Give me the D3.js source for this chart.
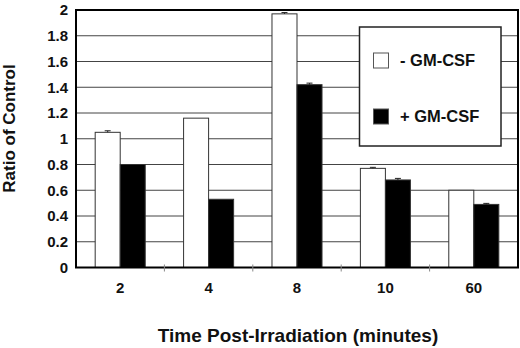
<!DOCTYPE html>
<html>
<head>
<meta charset="utf-8">
<script src="https://cdn.jsdelivr.net/npm/d3@7"></script>
<style>
  body { margin: 0; background: #fff; }
  svg { display: block; font-family: "Liberation Sans", Arial, sans-serif; font-weight: bold; }
</style>
</head>
<body>
<div id="chart"></div>
<script>
// chart data
const categories = ['2', '4', '8', '10', '60'];
const minusValues = [1.05, 1.16, 1.97, 0.77, 0.60];
const plusValues = [0.80, 0.53, 1.42, 0.68, 0.49];
const minusErr = [0.012, 0, 0.01, 0.008, 0];
const plusErr = [0, 0, 0.012, 0.012, 0.008];
const yTicks = [0, 0.2, 0.4, 0.6, 0.8, 1, 1.2, 1.4, 1.6, 1.8, 2];
const seriesNames = ['- GM-CSF', '+ GM-CSF'];
const seriesFill = ['#fff', '#000'];

const W = 520, H = 348;
const margin = { top: 10, right: 2, bottom: 80.5, left: 76 };
const width = W - margin.left - margin.right;
const height = H - margin.top - margin.bottom;

const svg = d3.select('#chart').append('svg')
    .attr('width', W).attr('height', H);

const chart = svg.append('g')
    .attr('transform', `translate(${margin.left},${margin.top})`);

const x = d3.scaleBand()
    .domain(categories)
    .range([0, width])
    .paddingInner(0.434)
    .paddingOuter(0.217);

const xSub = d3.scaleBand()
    .domain([0, 1])
    .range([0, x.bandwidth()]);

const y = d3.scaleLinear().domain([0, 2]).range([height, 0]);

// gridlines
chart.append('g')
    .selectAll('line')
    .data(yTicks.slice(1, -1))
    .join('line')
    .attr('x1', 0).attr('x2', width)
    .attr('y1', d => y(d)).attr('y2', d => y(d))
    .attr('stroke', '#444')
    .attr('stroke-width', 1);

// bars
const rows = categories.map((c, i) => ({
    cat: c,
    vals: [
        { s: 0, v: minusValues[i], e: minusErr[i] },
        { s: 1, v: plusValues[i], e: plusErr[i] }
    ]
}));

const groups = chart.selectAll('.grp')
    .data(rows)
    .join('g')
    .attr('class', 'grp')
    .attr('transform', d => `translate(${x(d.cat)},0)`);

groups.selectAll('rect')
    .data(d => d.vals)
    .join('rect')
    .attr('x', d => xSub(d.s))
    .attr('y', d => y(d.v))
    .attr('width', xSub.bandwidth())
    .attr('height', d => height - y(d.v))
    .attr('fill', d => seriesFill[d.s])
    .attr('stroke', '#333')
    .attr('stroke-width', 1);

// error bars
const errs = groups.selectAll('.err')
    .data(d => d.vals.filter(v => v.e > 0))
    .join('g')
    .attr('class', 'err')
    .attr('stroke', '#222')
    .attr('stroke-width', 1);

errs.append('line')
    .attr('x1', d => xSub(d.s) + xSub.bandwidth() / 2)
    .attr('x2', d => xSub(d.s) + xSub.bandwidth() / 2)
    .attr('y1', d => y(d.v))
    .attr('y2', d => y(d.v + d.e));

errs.append('line')
    .attr('x1', d => xSub(d.s) + xSub.bandwidth() / 2 - 3)
    .attr('x2', d => xSub(d.s) + xSub.bandwidth() / 2 + 3)
    .attr('y1', d => y(d.v + d.e))
    .attr('y2', d => y(d.v + d.e));

// frame
chart.append('rect')
    .attr('x', 0).attr('y', 0)
    .attr('width', width).attr('height', height)
    .attr('fill', 'none')
    .attr('stroke', '#000')
    .attr('stroke-width', 2);

// x ticks at category boundaries
const bounds = categories.slice(1).map(c => x(c) - x.step() * 0.217);
chart.append('g')
    .selectAll('line')
    .data(bounds)
    .join('line')
    .attr('x1', d => d).attr('x2', d => d)
    .attr('y1', height - 3).attr('y2', height + 4)
    .attr('stroke', '#888');

// x tick labels
chart.append('g')
    .selectAll('text')
    .data(categories)
    .join('text')
    .attr('x', d => x(d) + x.bandwidth() / 2)
    .attr('y', height + 25.5)
    .attr('text-anchor', 'middle')
    .attr('font-size', '15px')
    .attr('fill', '#111')
    .text(d => d);

// y tick labels
chart.append('g')
    .selectAll('text')
    .data(yTicks)
    .join('text')
    .attr('x', -8)
    .attr('y', d => y(d))
    .attr('dy', '0.35em')
    .attr('text-anchor', 'end')
    .attr('font-size', '15px')
    .attr('fill', '#111')
    .text(d => d3.format('~g')(d));

// axis titles
svg.append('text')
    .attr('transform', 'rotate(-90)')
    .attr('x', -128.5)
    .attr('y', 14.5)
    .attr('text-anchor', 'middle')
    .attr('font-size', '17px')
    .attr('fill', '#111')
    .text('Ratio of Control');

svg.append('text')
    .attr('x', 298)
    .attr('y', 342)
    .attr('text-anchor', 'middle')
    .attr('font-size', '19px')
    .attr('fill', '#111')
    .text('Time Post-Irradiation (minutes)');

// legend
const legend = svg.append('g');
legend.append('rect')
    .attr('x', 359.5).attr('y', 27)
    .attr('width', 141.5).attr('height', 119)
    .attr('fill', '#fff')
    .attr('stroke', '#222')
    .attr('stroke-width', 1.5);

const legY = [53, 109];
seriesNames.forEach((name, i) => {
    legend.append('rect')
        .attr('x', 373.5).attr('y', legY[i])
        .attr('width', 15).attr('height', 15)
        .attr('fill', seriesFill[i])
        .attr('stroke', '#555')
        .attr('stroke-width', 1);
    legend.append('text')
        .attr('x', 400)
        .attr('y', legY[i] + 12.5)
        .attr('font-size', '16.5px')
        .attr('fill', '#111')
        .text(name);
});
</script>
</body>
</html>
